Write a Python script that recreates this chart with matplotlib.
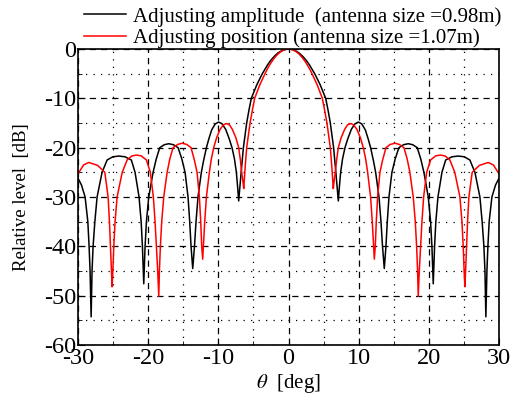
import matplotlib
matplotlib.use('Agg')
import matplotlib.pyplot as plt
from matplotlib.ticker import MultipleLocator

plt.rcParams['font.family'] = 'Liberation Serif'
plt.rcParams['mathtext.fontset'] = 'stix'
plt.rcParams['axes.unicode_minus'] = False

# black curve: adjusting amplitude (0.98 m)
amp_theta = [-30, -29.5, -28.99, -28.6, -28.42, -28.28, -28.13, -28.0, -27.85, -27.6, -27.28, -26.57,
             -25.85, -25.05, -24.19, -23.3, -22.4, -21.87, -21.3, -21.0, -20.82, -20.63, -20.44, -20.25,
             -19.92, -19.3, -18.85, -18.35, -17.7, -17.07, -16.4, -15.74, -15.2, -14.74, -14.32, -14.08,
             -13.89, -13.65, -13.4, -13.18, -12.9, -12.42, -12.1, -11.7, -11.35, -10.95, -10.45, -9.95,
             -9.45, -8.95, -8.45, -8.05, -7.7, -7.43, -7.25, -7.1, -6.75, -6.43, -6.2, -5.96, -5.65, -5.3,
             -4.5, -3.73, -3, -2.5, -2, -1.5, -1, -0.5,
             0, 0.5, 1, 1.5, 2, 2.5, 3, 3.73, 4.5, 5.3, 5.65, 5.96, 6.2, 6.43, 6.75, 7.1, 7.25, 7.43, 7.7,
             8.05, 8.45, 8.95, 9.45, 9.95, 10.45, 10.95, 11.35, 11.7, 12.1, 12.42, 12.9, 13.18, 13.4, 13.65,
             13.89, 14.08, 14.32, 14.74, 15.2, 15.74, 16.4, 17.07, 17.7, 18.35, 18.85, 19.3, 19.92, 20.25,
             20.44, 20.63, 20.82, 21.0, 21.3, 21.87, 22.4, 23.3, 24.19, 25.05, 25.85, 26.57, 27.28, 27.6,
             27.85, 28.0, 28.13, 28.28, 28.42, 28.6, 28.99, 29.5, 30]
amp_db = [-26.2, -27.6, -30, -35, -40, -45, -54.3, -45, -40, -35, -30, -25,
          -22.5, -21.85, -21.7, -21.85, -22.5, -25, -30, -35, -40, -47.6, -40, -35,
          -30, -25, -22.3, -20, -19.4, -19.2, -19.4, -20, -22.3, -25, -30, -35,
          -40, -44.5, -40, -35, -30, -25, -22.6, -20, -18.2, -16.4, -15.2, -14.8,
          -15.2, -16.3, -18.2, -20, -22.3, -25, -28, -30.8, -25, -20, -17.5, -15, -12.5, -10,
          -7.2, -5, -3.25, -2.25, -1.45, -0.8, -0.36, -0.09,
          0, -0.09, -0.36, -0.8, -1.45, -2.25, -3.25, -5, -7.2, -10, -12.5, -15, -17.5, -20, -25, -30.8,
          -28, -25, -22.3, -20, -18.2, -16.3, -15.2, -14.8, -15.2, -16.4, -18.2, -20, -22.6, -25, -30,
          -35, -40, -44.5, -40, -35, -30, -25, -22.3, -20, -19.4, -19.2, -19.4, -20, -22.3, -25, -30,
          -35, -40, -47.6, -40, -35, -30, -25, -22.5, -21.85, -21.7, -21.85, -22.5, -25, -30, -35,
          -40, -45, -54.3, -45, -40, -35, -30, -27.6, -26.2]

# red curve: adjusting position (1.07 m)
pos_theta = [-30, -29.2, -28.46, -27.2, -26.18, -25.71, -25.52, -25.38, -25.24, -25.14, -25.03, -24.9,
             -24.72, -24.43, -23.7, -23.0, -22.35, -21.68, -21.0, -20.25, -19.69, -19.26, -19.02, -18.83,
             -18.64, -18.49, -18.4, -18.26, -18.07, -17.78, -17.3, -16.9, -16.45, -15.8, -15.17, -14.5,
             -13.89, -13.4, -13.03, -12.7, -12.51, -12.37, -12.23, -12.13, -11.94, -11.7, -11.28, -11.0,
             -10.66, -10.25, -9.75, -9.3, -8.86, -8.4, -8.0, -7.5, -7.1, -6.85, -6.67, -6.5, -6.38, -6.18,
             -5.96, -5.72, -5.48, -5.15, -4.82, -4.1, -3.35, -3, -2.5, -2, -1.5, -1, -0.5,
             0, 0.5, 1, 1.5, 2, 2.5, 3, 3.35, 4.1, 4.82, 5.15, 5.48, 5.72, 5.96, 6.18, 6.38, 6.5, 6.67,
             6.85, 7.1, 7.5, 8.0, 8.4, 8.86, 9.3, 9.75, 10.25, 10.66, 11.0, 11.28, 11.7, 11.94, 12.13,
             12.23, 12.37, 12.51, 12.7, 13.03, 13.4, 13.89, 14.5, 15.17, 15.8, 16.45, 16.9, 17.3, 17.78,
             18.07, 18.26, 18.4, 18.49, 18.64, 18.83, 19.02, 19.26, 19.69, 20.25, 21.0, 21.68, 22.35, 23.0,
             23.7, 24.43, 24.72, 24.9, 25.03, 25.14, 25.24, 25.38, 25.52, 25.71, 26.18, 27.2, 28.46, 29.2, 30]
pos_db = [-25.3, -23.5, -23.0, -23.6, -25, -30, -35, -40, -45, -48.2, -45, -40,
          -35, -30, -25, -22.5, -21.7, -21.5, -21.65, -22.5, -25, -30, -35, -40,
          -45, -50.1, -45, -40, -35, -30, -25, -22.2, -20, -19.35, -19.1, -19.35,
          -20, -22.6, -25, -30, -35, -40, -42.6, -40, -35, -30, -25, -22.3,
          -20, -18.0, -16.3, -15.4, -15.1, -15.4, -16.3, -18.0, -20, -22.6, -25, -26.8, -28.3, -24,
          -20, -17.5, -15, -12.4, -10, -7.3, -5, -4.0, -2.8, -1.8, -1.0, -0.45, -0.11,
          0, -0.11, -0.45, -1.0, -1.8, -2.8, -4.0, -5, -7.3, -10, -12.4, -15, -17.5, -20, -24, -28.3,
          -26.8, -25, -22.6, -20, -18.0, -16.3, -15.4, -15.1, -15.4, -16.3, -18.0, -20, -22.3, -25, -30,
          -35, -40, -42.6, -40, -35, -30, -25, -22.6, -20, -19.35, -19.1, -19.35, -20, -22.2, -25, -30,
          -35, -40, -45, -50.1, -45, -40, -35, -30, -25, -22.5, -21.65, -21.5, -21.7, -22.5,
          -25, -30, -35, -40, -45, -48.2, -45, -40, -35, -30, -25, -23.6, -23.0, -23.5, -25.3]

fig = plt.figure(figsize=(5.18, 4.01), dpi=100)
ax = fig.add_axes([0.1506, 0.1397, 0.8127, 0.7381])

ax.plot(amp_theta, amp_db, color='black', lw=1.1,
        label='Adjusting amplitude  (antenna size =0.98m)')
ax.plot(pos_theta, pos_db, color='red', lw=1.1,
        label='Adjusting position (antenna size =1.07m)')

ax.set_xlim(-30, 30)
ax.set_ylim(-60, 0)
ax.xaxis.set_major_locator(MultipleLocator(10))
ax.xaxis.set_minor_locator(MultipleLocator(5))
ax.yaxis.set_major_locator(MultipleLocator(10))
ax.yaxis.set_minor_locator(MultipleLocator(5))
ax.grid(which='major', color='black', ls=(0, (5, 4)), lw=0.9)
ax.grid(which='minor', color='black', ls=(0, (1, 5)), lw=0.9)
ax.tick_params(which='both', direction='in', labelsize=17.5)
ax.tick_params(axis='x', pad=2)
ax.tick_params(axis='y', pad=1)
ax.tick_params(which='major', length=5)
ax.tick_params(which='minor', length=3)
for s in ax.spines.values():
    s.set_linewidth(1.2)

ax.set_xlabel(r'$\theta$  [deg]', fontsize=15)
ax.set_ylabel('Relative level  [dB]', fontsize=13.5)
ax.xaxis.set_label_coords(0.5, -0.092)
ax.yaxis.set_label_coords(-0.115, 0.5)

fig.legend(loc='upper left', bbox_to_anchor=(0.162, 0.983), frameon=False, fontsize=15,
           handlelength=2.0, handletextpad=0.35, labelspacing=0.08, borderpad=0, borderaxespad=0)

plt.savefig('out.png', dpi=100)
